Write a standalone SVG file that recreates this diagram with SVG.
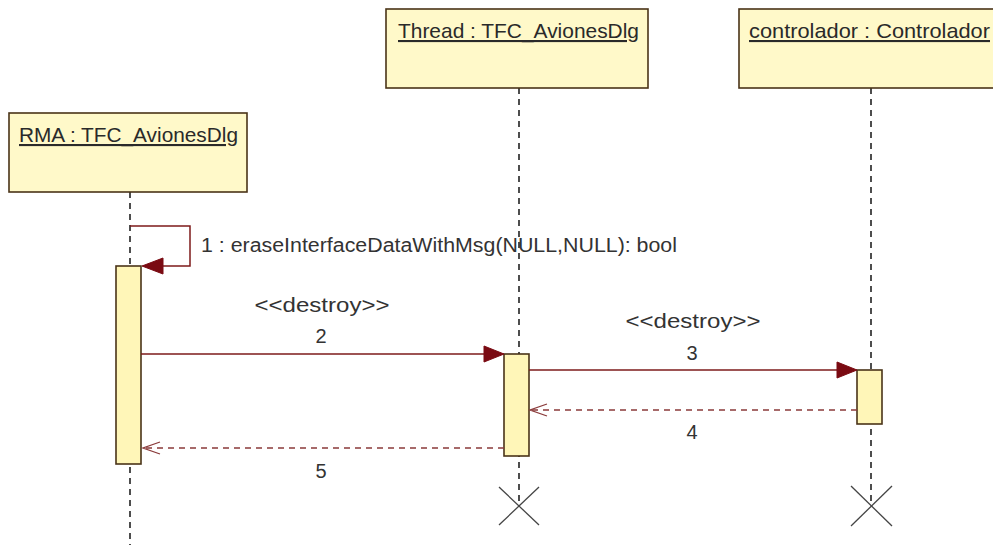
<svg xmlns="http://www.w3.org/2000/svg" width="993" height="545" viewBox="0 0 993 545">
<style>
  .head { fill: #fff9c9; stroke: #4a3418; stroke-width: 1.6; }
  .act { fill: #fff6b8; stroke: #4a3418; stroke-width: 1.6; }
  .life { stroke: #222; stroke-width: 1.6; stroke-dasharray: 6 5; fill: none; }
  .title { font-family: "Liberation Sans", Arial, sans-serif; font-size: 21px; fill: #2a2a2a; text-decoration: underline; }
  .lbl { font-family: "Liberation Sans", Arial, sans-serif; font-size: 20px; fill: #333; }
  .msg { stroke: #7d1a1a; stroke-width: 1.5; fill: none; }
  .ret { stroke: #8a3a3a; stroke-width: 1.5; fill: none; stroke-dasharray: 6 5; }
  .head-fill { fill: #7a0a12; stroke: #7a0a12; stroke-width: 1; }
  .open { stroke: #8a3a3a; stroke-width: 1.3; fill: none; }
  .x { stroke: #444; stroke-width: 1.3; }
</style>
<rect width="993" height="545" fill="#ffffff"/>

<g id="RMA">
  <line class="life" x1="130" y1="192" x2="130" y2="545"/>
  <rect class="head" x="9" y="113" width="238" height="79"/>
  <text class="title" x="19" y="142" textLength="219" lengthAdjust="spacingAndGlyphs">RMA : TFC_AvionesDlg</text>
  <rect class="act" x="116" y="266" width="25" height="198"/>
</g>

<g id="Thread">
  <line class="life" x1="519" y1="88" x2="519" y2="506"/>
  <rect class="head" x="386" y="9" width="262" height="79"/>
  <text class="title" x="398" y="38" textLength="241" lengthAdjust="spacingAndGlyphs">Thread : TFC_AvionesDlg</text>
  <rect class="act" x="504" y="354" width="25" height="102"/>
  <line class="x" x1="499" y1="487" x2="539" y2="525"/>
  <line class="x" x1="539" y1="487" x2="499" y2="525"/>
</g>

<g id="controlador">
  <line class="life" x1="871" y1="88" x2="871" y2="506"/>
  <rect class="head" x="739" y="9" width="270" height="79"/>
  <text class="title" x="749" y="38" textLength="241" lengthAdjust="spacingAndGlyphs">controlador : Controlador</text>
  <rect class="act" x="857" y="370" width="25" height="54"/>
  <line class="x" x1="851" y1="486" x2="892" y2="526"/>
  <line class="x" x1="892" y1="486" x2="851" y2="526"/>
</g>

<g id="connectors">
  <!-- 1: self message -->
  <polyline class="msg" points="130,226 190,226 190,266 160,266"/>
  <polygon class="head-fill" points="142,266 163,258 163,274"/>
  <text class="lbl" x="201" y="252" textLength="476" lengthAdjust="spacingAndGlyphs">1 : eraseInterfaceDataWithMsg(NULL,NULL): bool</text>

  <!-- 2 -->
  <line class="msg" x1="141" y1="354" x2="486" y2="354"/>
  <polygon class="head-fill" points="504,354 484,346 484,362"/>
  <text class="lbl" x="322" y="312" text-anchor="middle" textLength="135" lengthAdjust="spacingAndGlyphs">&lt;&lt;destroy&gt;&gt;</text>
  <text class="lbl" x="321" y="343" text-anchor="middle">2</text>

  <!-- 3 -->
  <line class="msg" x1="529" y1="370" x2="839" y2="370"/>
  <polygon class="head-fill" points="857,370 837,362 837,378"/>
  <text class="lbl" x="693" y="328" text-anchor="middle" textLength="135" lengthAdjust="spacingAndGlyphs">&lt;&lt;destroy&gt;&gt;</text>
  <text class="lbl" x="692" y="360" text-anchor="middle">3</text>

  <!-- 4 -->
  <line class="ret" x1="857" y1="410" x2="531" y2="410"/>
  <polyline class="open" points="547,404 530,410 547,416"/>
  <text class="lbl" x="692" y="439" text-anchor="middle">4</text>

  <!-- 5 -->
  <line class="ret" x1="504" y1="448" x2="143" y2="448"/>
  <polyline class="open" points="160,442 143,448 160,454"/>
  <text class="lbl" x="321" y="478" text-anchor="middle">5</text>
</g>
</svg>
